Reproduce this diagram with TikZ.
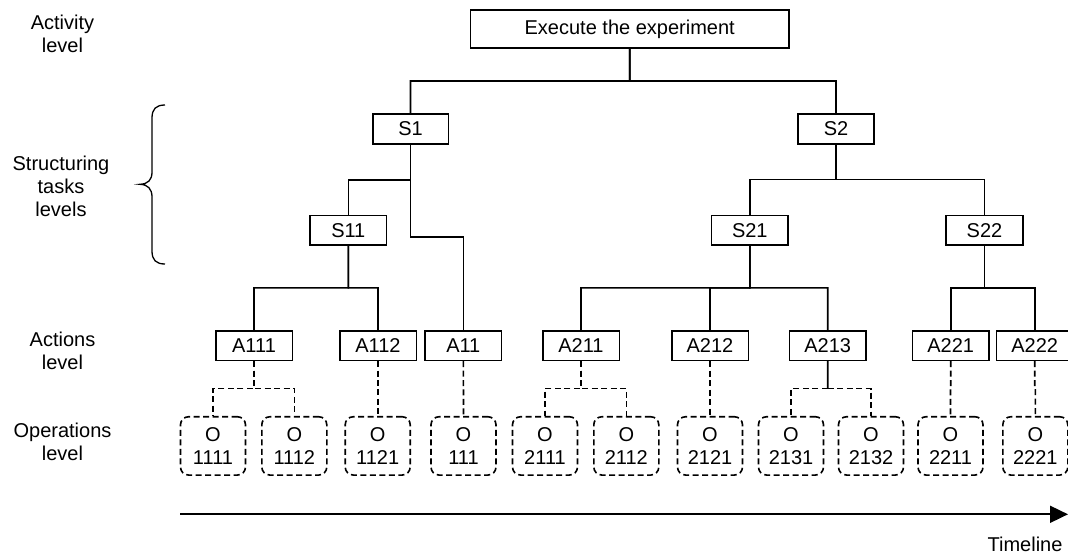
\documentclass[tikz,border=0pt]{standalone}
\usepackage{fontspec}
\setmainfont{Liberation Sans}
\usetikzlibrary{calc,arrows.meta}
\newcommand\treeedge[3][]{\draw[#1] (#2.south) -- ($(#2.south)!0.5!(#2.south|-#3.north)$) -| (#3.north);}
\begin{document}
\begin{tikzpicture}[x=1pt,y=-1pt,
  every node/.style={font=\fontsize{20}{23}\selectfont},
  line/.style={line width=1.6pt,draw=black},
  sbox/.style={line, draw, inner sep=0pt, minimum width=76.5pt, minimum height=29.5pt},
  obox/.style={line, draw, dashed, dash pattern=on 6pt off 3.5pt, rounded corners=8pt, inner sep=0pt, minimum width=65pt, minimum height=58.3pt, align=center},
  lbl/.style={align=center, anchor=base},
  dashedge/.style={line, dash pattern=on 6pt off 3.5pt}]
\useasboundingbox (0,0) rectangle (1068,554);

% level labels (anchor base = baseline of last line)
\node[lbl] (lact) at (62.5,52.3) {Activity\\level};
\node[lbl] (lstr) at (61,216.7) {Structuring\\tasks\\levels};
\node[lbl] (lacn) at (62.5,369.3) {Actions\\level};
\node[lbl] (lop) at (62.5,460.7) {Operations\\level};

% brace
\draw[line width=1.3pt] (165,105) .. controls (156,105) and (152,109) .. (152,118)
  -- (152,172) .. controls (152,180) and (148,184) .. (140,184.3)
  .. controls (148,184.6) and (152,189) .. (152,197)
  -- (152,251) .. controls (152,260) and (156,264) .. (165,264);

% activity
\node[sbox, minimum width=318.5pt, minimum height=37.7pt] (top) at (629.7,28.85) {Execute the experiment};

% structuring
\node[sbox, minimum width=75.6pt] (S1) at (410.5,129) {S1};
\node[sbox] (S2) at (836,129) {S2};
\node[sbox] (S11) at (348.3,230.4) {S11};
\node[sbox] (S21) at (749.8,230.2) {S21};
\node[sbox] (S22) at (984.5,230.2) {S22};

% actions
\foreach \n/\x in {A111/254,A112/378,A11/463.3,A211/581,A212/710,A213/827.7,A221/950.7,A222/1034.7}
  \node[sbox, minimum width=76.6pt, minimum height=29.6pt] (\n) at (\x,345.5) {\n};

% operations
\foreach \n/\t/\x in {O1111/1111/213,O1112/1112/294.3,O1121/1121/377.7,O111/111/463.5,O2111/2111/545,O2112/2112/626.3,O2121/2121/710,O2131/2131/791,O2132/2132/871,O2211/2211/950.5,O2221/2221/1035.3}
  \node[obox] (\n) at (\x,445.9) {O\\\t};

% solid tree edges
\treeedge[line]{top}{S1}
\treeedge[line]{top}{S2}
\treeedge[line]{S1}{S11}
\treeedge[line]{S1}{A11}
\treeedge[line]{S11}{A111}
\treeedge[line]{S11}{A112}
\treeedge[line]{S2}{S21}
\treeedge[line]{S2}{S22}
\treeedge[line]{S21}{A211}
\treeedge[line]{S21}{A212}
\treeedge[line]{S21}{A213}
\treeedge[line]{S22}{A221}
\treeedge[line]{S22}{A222}

% dashed operation edges
\treeedge[dashedge]{A111}{O1111}
\treeedge[dashedge]{A111}{O1112}
\treeedge[dashedge]{A112}{O1121}
\treeedge[dashedge]{A11}{O111}
\treeedge[dashedge]{A211}{O2111}
\treeedge[dashedge]{A211}{O2112}
\treeedge[dashedge]{A212}{O2121}
\coordinate (m213) at ($(A213.south)!0.5!(A213.south|-O2131.north)$);
\draw[line] (A213.south) -- (m213);
\draw[dashedge] (m213) -| (O2131.north);
\draw[dashedge] (m213) -| (O2132.north);
\treeedge[dashedge]{A221}{O2211}
\treeedge[dashedge]{A222}{O2221}

% timeline
\coordinate (tl0) at (180,514.3);
\coordinate (tl1) at (1068,514.3);
\draw[line width=1.8pt, -{Triangle[length=18pt,width=17pt]}] (tl0) -- (tl1);
\node[anchor=base east] (tlabel) at (1066,551) {Timeline};
\end{tikzpicture}
\end{document}
